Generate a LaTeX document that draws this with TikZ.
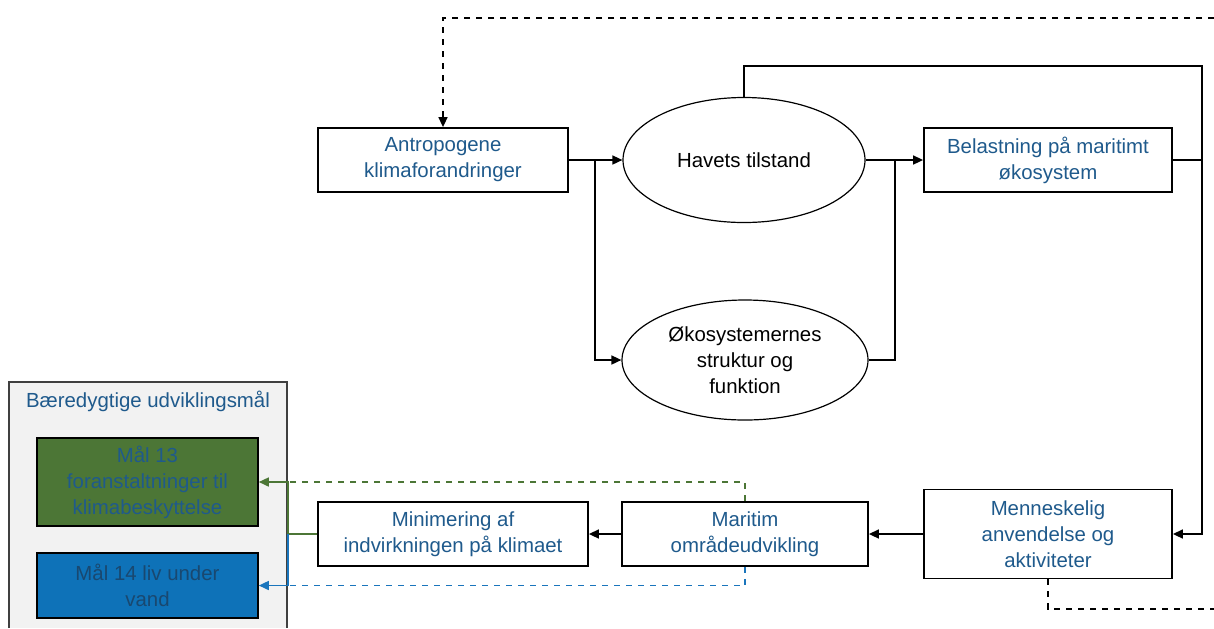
\documentclass[tikz,border=0pt]{standalone}
\usepackage{fontspec}
\setmainfont{Liberation Sans}
\usepackage{tikz}
\usetikzlibrary{shapes.geometric,arrows.meta}
\definecolor{txtblue}{HTML}{1F5A8C}
\definecolor{sdggreen}{HTML}{4C7636}
\definecolor{sdgblue}{HTML}{0E72B8}
\definecolor{sdgline}{HTML}{1A75BC}
\definecolor{sdggray}{HTML}{F2F2F2}

\begin{document}
\begin{tikzpicture}[x=0.5pt,y=-0.5pt,
		every node/.style={font=\fontsize{10.2}{13}\selectfont,align=center},
		box/.style={draw,line width=0.9pt,fill=white,text=txtblue,minimum height=32pt,inner sep=2pt},
		oval/.style={draw,ellipse,line width=0.6pt,inner sep=0pt},
		goal/.style={draw,line width=0.8pt,minimum width=110.5pt,inner sep=2pt},
		link/.style={line width=0.8pt},
		tip/.style={-{Triangle[length=5pt,width=4.5pt]}}]
		\useasboundingbox (0,0) rectangle (1214,628);

		\node[box,minimum width=125pt] (anthro) at (443,160) {Antropogene\\klimaforandringer};
		\node[oval,minimum width=121pt,minimum height=62.5pt] (havet) at (744,160) {Havets tilstand};
		\node[oval,minimum width=123pt,minimum height=60pt] (oekosys) at (745,360) {Økosystemernes\\struktur og\\funktion};
		\node[box,minimum width=124pt] (belast) at (1048,160) {Belastning på maritimt\\økosystem};
		\node[box,minimum width=124pt,minimum height=44.5pt] (menneske) at (1048,534) {Menneskelig\\anvendelse og\\aktiviteter};
		\node[box,minimum width=123pt] (maritim) at (745,534) {Maritim\\områdeudvikling};
		\node[box,minimum width=135pt] (minim) at (453,534) {Minimering af\\indvirkningen på klimaet};

		\fill[sdggray] (9,382) rectangle (287,628);
		\draw[line width=0.8pt,black!75] (9,628) |- (287,382) -- (287,628);
		\node[text=txtblue] (sdgtitle) at (148,401) {Bæredygtige udviklingsmål};
		\node[goal,fill=sdggreen,text=txtblue,minimum height=44pt] (mal13) at (147.5,482) {Mål 13\\foranstaltninger til\\klimabeskyttelse};
		\node[goal,fill=sdgblue,text=txtblue!80!black,minimum height=32.5pt] (mal14) at (147.5,585.5) {Mål 14 liv under\\vand};

		\coordinate (split1) at (595,160);
		\coordinate (join1) at (895,160);
		\coordinate (topright) at (1202,66);
		\coordinate (outtop) at (1214,18);
		\coordinate (outbot) at (1214,609);
		\coordinate (sdgjoin) at (288,534);

		\draw[link,tip] (anthro) -- (havet);
		\draw[link,tip] (split1) |- (oekosys.west);
		\draw[link,tip] (havet) -- (belast);
		\draw[link] (oekosys.east) -| (join1);
		\draw[link,tip] (havet.north) |- (topright) |- (menneske.east);
		\draw[link] (belast.east) -- (belast.east -| topright);
		\draw[link,tip] (menneske) -- (maritim);
		\draw[link,tip] (maritim) -- (minim);
		\draw[link,dashed,tip] (outtop) -| (anthro.north);
		\draw[link,dashed] (menneske.south) |- (outbot);

		\draw[link,sdggreen,tip] (minim.west) -- (sdgjoin) |- (mal13.east);
		\draw[link,sdgline,tip] (sdgjoin) |- (mal14.east);
		\draw[link,sdggreen,dashed] (maritim.north) |- (sdgjoin |- mal13.east);
		\draw[link,sdgline,dashed] (maritim.south) |- (sdgjoin |- mal14.east);
	\end{tikzpicture}
\end{document}
